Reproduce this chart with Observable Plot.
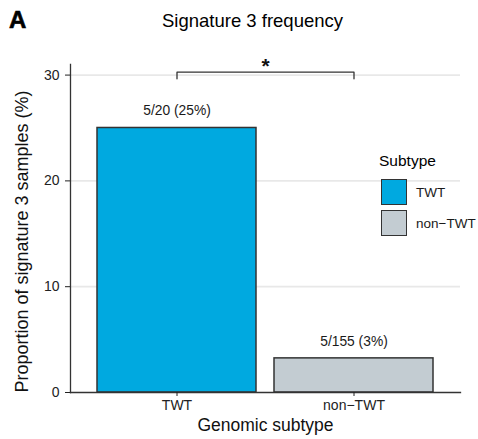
<!DOCTYPE html>
<html>
<head>
<meta charset="utf-8">
<script src="https://cdn.jsdelivr.net/npm/d3@7"></script>
<script src="https://cdn.jsdelivr.net/npm/@observablehq/plot@0.6"></script>
<style>
  html, body { margin: 0; padding: 0; background: white; }
  #wrap { position: relative; width: 478px; height: 439px; font-family: "Liberation Sans", Arial, Helvetica, sans-serif; color: #000; }
  #wrap svg { position: absolute; left: 0; top: 0; }
  .ov { position: absolute; white-space: nowrap; }
  #panel { left: 9px; top: 8px; font-size: 24px; font-weight: 900; line-height: 24px; -webkit-text-stroke: 0.6px #000; }
  #title { left: 0; width: 505px; text-align: center; top: 12px; font-size: 18.5px; line-height: 18px; }
  #legend { left: 379px; top: 152px; }
  #legend .lt { font-size: 15.5px; line-height: 18px; margin-bottom: 9px; }
  #legend .row { display: flex; align-items: center; height: 26px; margin-bottom: 5px; margin-left: 2px; }
  #legend .sw { width: 24px; height: 24px; border: 1.5px solid #333; margin-right: 9px; }
  #legend .lb { font-size: 13.5px; color: #1a1a1a; }
</style>
</head>
<body>
<div id="wrap">
  <div class="ov" id="panel">A</div>
  <div class="ov" id="title">Signature 3 frequency</div>
  <div class="ov" id="legend"></div>
</div>
<script>
// ---- data ----
const categories = ["TWT", "non\u2212TWT"];
const values = [25, 100 * 5 / 155];
const barLabels = ["5/20 (25%)", "5/155 (3%)"];
const colors = ["#00a9e0", "#c3ccd2"];
const yTicks = [0, 10, 20, 30];
const yDomain = [0, 31];
const bracketY = 30.27;
const bracketTickY = 29.65;
const sigLabel = "*";
const legendTitle = "Subtype";
const xTitle = "Genomic subtype";
const yTitle = "Proportion of signature 3 samples (%)";

const data = categories.map((c, i) => ({subtype: c, value: values[i], label: barLabels[i]}));
const bracket = [
  {x: categories[0], y: bracketTickY},
  {x: categories[0], y: bracketY},
  {x: categories[1], y: bracketY},
  {x: categories[1], y: bracketTickY}
];

const font = "Liberation Sans, Arial, Helvetica, sans-serif";

const chart = Plot.plot({
  width: 478,
  height: 439,
  marginLeft: 70,
  marginRight: 18,
  marginTop: 64,
  marginBottom: 47,
  style: {fontFamily: font, background: "transparent"},
  x: {domain: categories, paddingInner: 0.1, paddingOuter: 0.15, axis: null},
  y: {domain: yDomain, axis: null},
  color: {domain: categories, range: colors},
  marks: [
    Plot.gridY(yTicks.filter(d => d > 0), {stroke: "#e8e8e8", strokeOpacity: 1, strokeWidth: 1.8}),
    Plot.barY(data, {x: "subtype", y: "value", fill: "subtype", stroke: "#333", strokeWidth: 1.5}),
    Plot.text(data, {x: "subtype", y: "value", text: "label", dy: -17, fontSize: 13.8, fill: "#1a1a1a"}),
    Plot.line(bracket, {x: "x", y: "y", stroke: "#333", strokeWidth: 1.3}),
    Plot.text([sigLabel], {y: () => bracketY, text: d => d, dy: -6, fontSize: 21, fontWeight: "bold", fill: "#111"}),
    Plot.frame({anchor: "left", stroke: "#333", strokeWidth: 1.3}),
    Plot.frame({anchor: "bottom", stroke: "#333", strokeWidth: 1.3}),
    Plot.axisY({ticks: yTicks, tickSize: 5, tickPadding: 6, fontSize: 14, color: "#222", label: null}),
    Plot.axisX({tickSize: 4, tickPadding: 4, fontSize: 14, color: "#222", label: null}),
    Plot.text([xTitle], {frameAnchor: "bottom", dy: 33, lineAnchor: "middle", textAnchor: "middle", fontSize: 17.5, fill: "#111"}),
    Plot.text([yTitle], {frameAnchor: "left", rotate: -90, dx: -48, dy: 13, lineAnchor: "middle", textAnchor: "middle", fontSize: 18, fill: "#111"})
  ]
});
document.getElementById("wrap").prepend(chart);

// legend
const leg = document.getElementById("legend");
const lt = document.createElement("div");
lt.className = "lt"; lt.textContent = legendTitle;
leg.appendChild(lt);
categories.forEach((c, i) => {
  const row = document.createElement("div"); row.className = "row";
  const sw = document.createElement("div"); sw.className = "sw"; sw.style.background = colors[i];
  const lb = document.createElement("div"); lb.className = "lb"; lb.textContent = c;
  row.appendChild(sw); row.appendChild(lb); leg.appendChild(row);
});
</script>
</body>
</html>
